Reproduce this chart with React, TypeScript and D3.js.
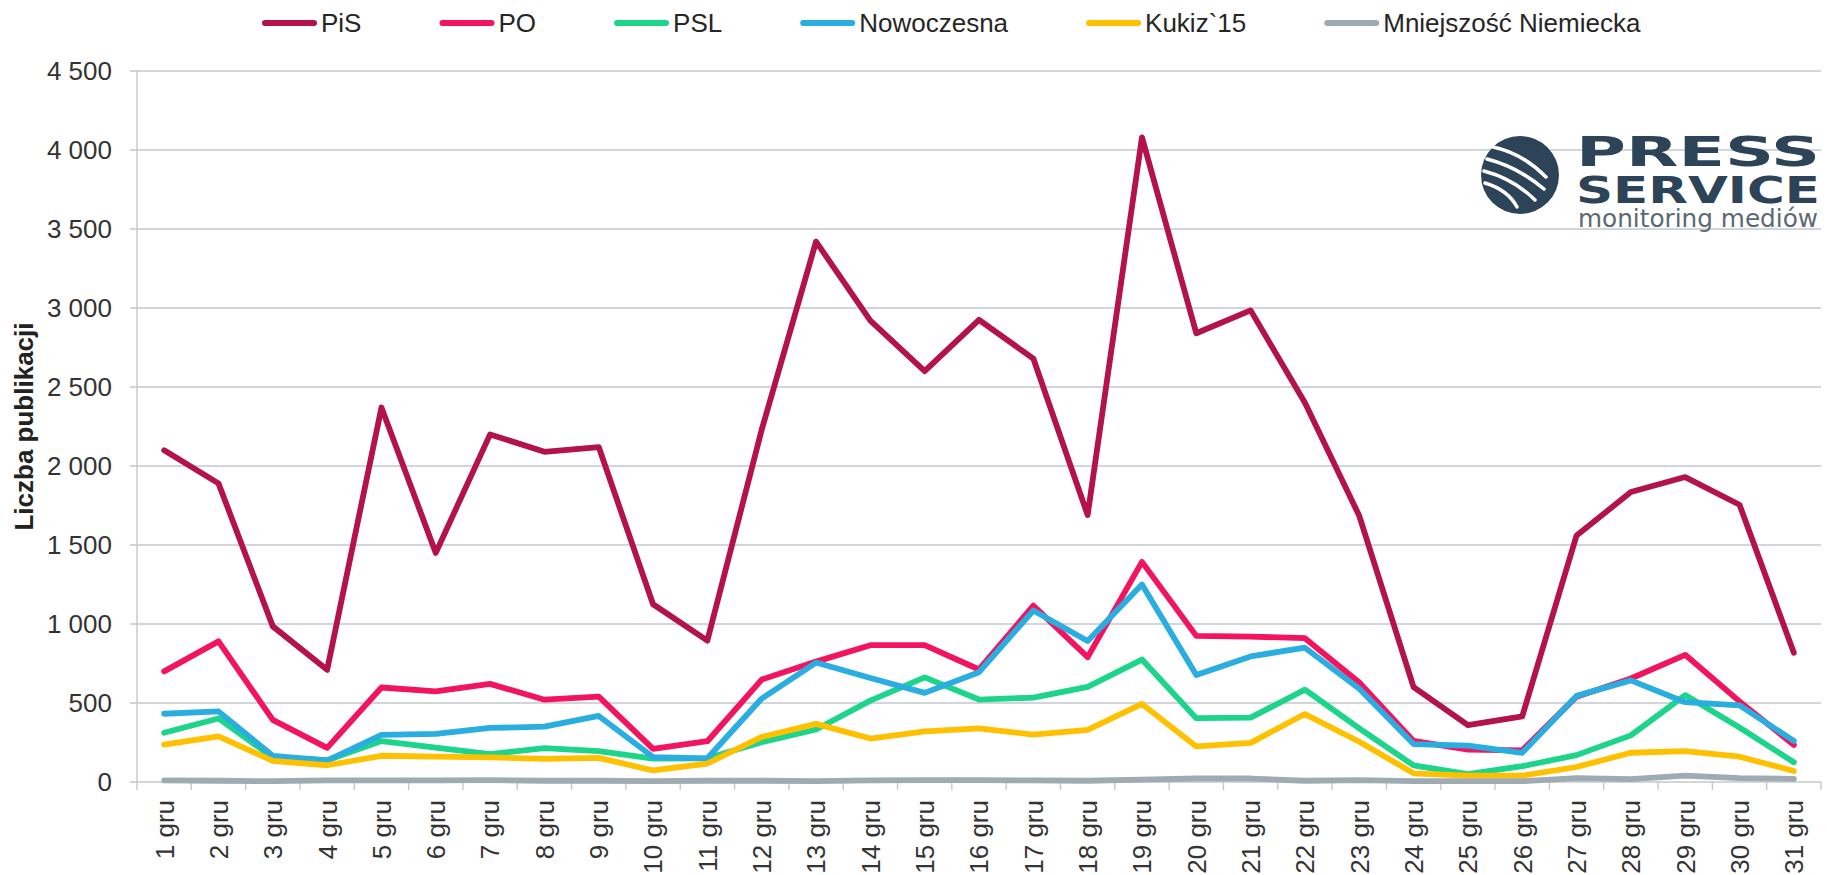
import { useEffect, useRef } from "react";
import * as d3 from "d3";

const days = [
  "1 gru", "2 gru", "3 gru", "4 gru", "5 gru", "6 gru", "7 gru", "8 gru", "9 gru", "10 gru",
  "11 gru", "12 gru", "13 gru", "14 gru", "15 gru", "16 gru", "17 gru", "18 gru", "19 gru", "20 gru",
  "21 gru", "22 gru", "23 gru", "24 gru", "25 gru", "26 gru", "27 gru", "28 gru", "29 gru", "30 gru", "31 gru",
];

const pis = [2100, 1890, 985, 710, 2370, 1450, 2200, 2090, 2120, 1125, 895, 2230, 3420, 2920, 2600, 2925, 2680, 1690, 4080, 2840, 2985, 2400, 1685, 600, 360, 415, 1560, 1835, 1930, 1755, 818];
const po = [700, 890, 393, 216, 598, 573, 621, 521, 540, 210, 258, 648, 762, 866, 866, 712, 1116, 790, 1393, 925, 920, 910, 630, 260, 205, 200, 540, 655, 805, 510, 235];
const psl = [312, 402, 155, 138, 259, 218, 177, 214, 195, 148, 150, 252, 332, 515, 662, 522, 534, 602, 775, 404, 407, 585, 340, 105, 50, 100, 170, 295, 550, 345, 125];
const nowoczesna = [432, 447, 166, 136, 298, 304, 342, 350, 418, 158, 150, 528, 756, 658, 564, 695, 1085, 892, 1250, 677, 795, 850, 590, 240, 230, 185, 545, 643, 505, 485, 260];
const kukiz = [237, 289, 134, 106, 166, 161, 156, 146, 153, 73, 117, 285, 368, 275, 320, 340, 300, 330, 494, 225, 248, 430, 255, 55, 40, 40, 95, 185, 195, 160, 70];
const mniejszosc = [10, 8, 5, 10, 10, 10, 12, 8, 8, 5, 8, 8, 5, 10, 12, 12, 10, 8, 15, 22, 22, 8, 12, 5, 5, 5, 25, 18, 40, 25, 20];

const seriesNames = ["PiS", "PO", "PSL", "Nowoczesna", "Kukiz`15", "Mniejszość Niemiecka"];
const seriesValues = [pis, po, psl, nowoczesna, kukiz, mniejszosc];
const seriesColors = ["#b3124a", "#f3145f", "#1cd48a", "#2aade0", "#ffc000", "#9eabb2"];

const yTicks = [0, 500, 1000, 1500, 2000, 2500, 3000, 3500, 4000, 4500];

const W = 1827;
const H = 875;
const FONT = "'Liberation Sans', Arial, sans-serif";

export default function App() {
  const ref = useRef<SVGSVGElement>(null);

  useEffect(() => {
    const svg = d3.select(ref.current);
    svg.selectAll("*").remove();

    const margin = { top: 71, right: 6, bottom: 93, left: 137 };

    const x = d3.scaleBand()
      .domain(days)
      .range([margin.left, W - margin.right]);

    const y = d3.scaleLinear()
      .domain([0, 4500])
      .range([H - margin.bottom, margin.top]);

    const gridColor = "#c5c8cb";

    // gridlines
    svg.append("g")
      .selectAll("line")
      .data(yTicks)
      .join("line")
      .attr("x1", margin.left - 7)
      .attr("x2", W - margin.right)
      .attr("y1", d => y(d))
      .attr("y2", d => y(d))
      .attr("stroke", gridColor)
      .attr("stroke-width", 1.4);

    // y axis line
    svg.append("line")
      .attr("x1", margin.left).attr("x2", margin.left)
      .attr("y1", y(4500)).attr("y2", y(0))
      .attr("stroke", gridColor).attr("stroke-width", 1.4);

    // y labels
    svg.append("g")
      .selectAll("text")
      .data(yTicks)
      .join("text")
      .attr("x", margin.left - 25)
      .attr("y", d => y(d))
      .attr("dy", "0.36em")
      .attr("text-anchor", "end")
      .attr("font-family", FONT)
      .attr("font-size", 26)
      .attr("fill", "#333")
      .text(d => d3.format(",")(d).replace(",", " "));

    // x ticks
    const tickXs = days.map(d => x(d)!).concat([W - margin.right]);
    svg.append("g")
      .selectAll("line")
      .data(tickXs)
      .join("line")
      .attr("x1", d => d).attr("x2", d => d)
      .attr("y1", y(0)).attr("y2", y(0) + 8)
      .attr("stroke", gridColor).attr("stroke-width", 1.4);

    // x labels
    svg.append("g")
      .selectAll("text")
      .data(days)
      .join("text")
      .attr("transform", d => `translate(${x(d)! + x.bandwidth() / 2},${y(0) + 18}) rotate(-90)`)
      .attr("dy", "0.36em")
      .attr("text-anchor", "end")
      .attr("font-family", FONT)
      .attr("font-size", 26)
      .attr("fill", "#333")
      .text(d => d);

    // y title
    svg.append("text")
      .attr("transform", `translate(33,${(y(0) + y(4500)) / 2}) rotate(-90)`)
      .attr("text-anchor", "middle")
      .attr("font-family", FONT)
      .attr("font-size", 26)
      .attr("font-weight", "bold")
      .attr("fill", "#222")
      .text("Liczba publikacji");

    // lines
    const line = d3.line<number>()
      .x((_, i) => x(days[i])! + x.bandwidth() / 2)
      .y(d => y(d));

    svg.append("g")
      .selectAll("path")
      .data(seriesValues)
      .join("path")
      .attr("fill", "none")
      .attr("stroke", (_, i) => seriesColors[i])
      .attr("stroke-width", 5.8)
      .attr("stroke-linejoin", "round")
      .attr("stroke-linecap", "round")
      .attr("d", d => line(d));

    // legend
    const legend = svg.append("g");
    let lx = 262;
    seriesNames.forEach((name, i) => {
      legend.append("line")
        .attr("x1", lx + 3).attr("x2", lx + 52)
        .attr("y1", 23).attr("y2", 23)
        .attr("stroke", seriesColors[i])
        .attr("stroke-width", 6)
        .attr("stroke-linecap", "round");
      const t = legend.append("text")
        .attr("x", lx + 59)
        .attr("y", 23)
        .attr("dy", "0.36em")
        .attr("font-family", FONT)
        .attr("font-size", 26)
        .attr("fill", "#262626")
        .text(name);
      const w = (t.node() as SVGTextElement).getComputedTextLength();
      lx = lx + 59 + w + 78;
    });

    // logo
    const logo = svg.append("g").attr("transform", "translate(1520,175)");
    const navy = "#2d4358";
    logo.append("circle").attr("r", 39).attr("fill", navy);
    const stripes = [
      [[-27, -28], [2, -22], [26, 2]],
      [[-33, -16], [-2, -8], [24, 14]],
      [[-36, -4], [-6, 4], [15, 25]],
      [[-35, 8], [-12, 15], [-3, 32]],
    ];
    stripes.forEach(([s, c, e]) => {
      logo.append("path")
        .attr("d", `M${s[0]},${s[1]} Q${c[0]},${c[1]} ${e[0]},${e[1]}`)
        .attr("fill", "none")
        .attr("stroke", "#fff")
        .attr("stroke-width", 3.5)
        .attr("stroke-linecap", "round");
    });
    svg.append("text")
      .attr("x", 1576).attr("y", 166)
      .attr("font-family", "'DejaVu Sans', sans-serif")
      .attr("font-weight", "bold")
      .attr("font-size", 40)
      .attr("textLength", 244)
      .attr("lengthAdjust", "spacingAndGlyphs")
      .attr("fill", navy)
      .text("PRESS");
    svg.append("text")
      .attr("x", 1576).attr("y", 203)
      .attr("font-family", "'DejaVu Sans', sans-serif")
      .attr("font-weight", "bold")
      .attr("font-size", 38)
      .attr("textLength", 244)
      .attr("lengthAdjust", "spacingAndGlyphs")
      .attr("fill", navy)
      .text("SERVICE");
    svg.append("text")
      .attr("x", 1578).attr("y", 227)
      .attr("font-family", "'DejaVu Sans', sans-serif")
      .attr("font-size", 25)
      .attr("textLength", 240)
      .attr("lengthAdjust", "spacingAndGlyphs")
      .attr("fill", "#5d6872")
      .text("monitoring mediów");
  }, []);

  return (
    <svg
      ref={ref}
      width={W}
      height={H}
      style={{ position: "absolute", left: 0, top: 0, display: "block", background: "#fff" }}
    />
  );
}
